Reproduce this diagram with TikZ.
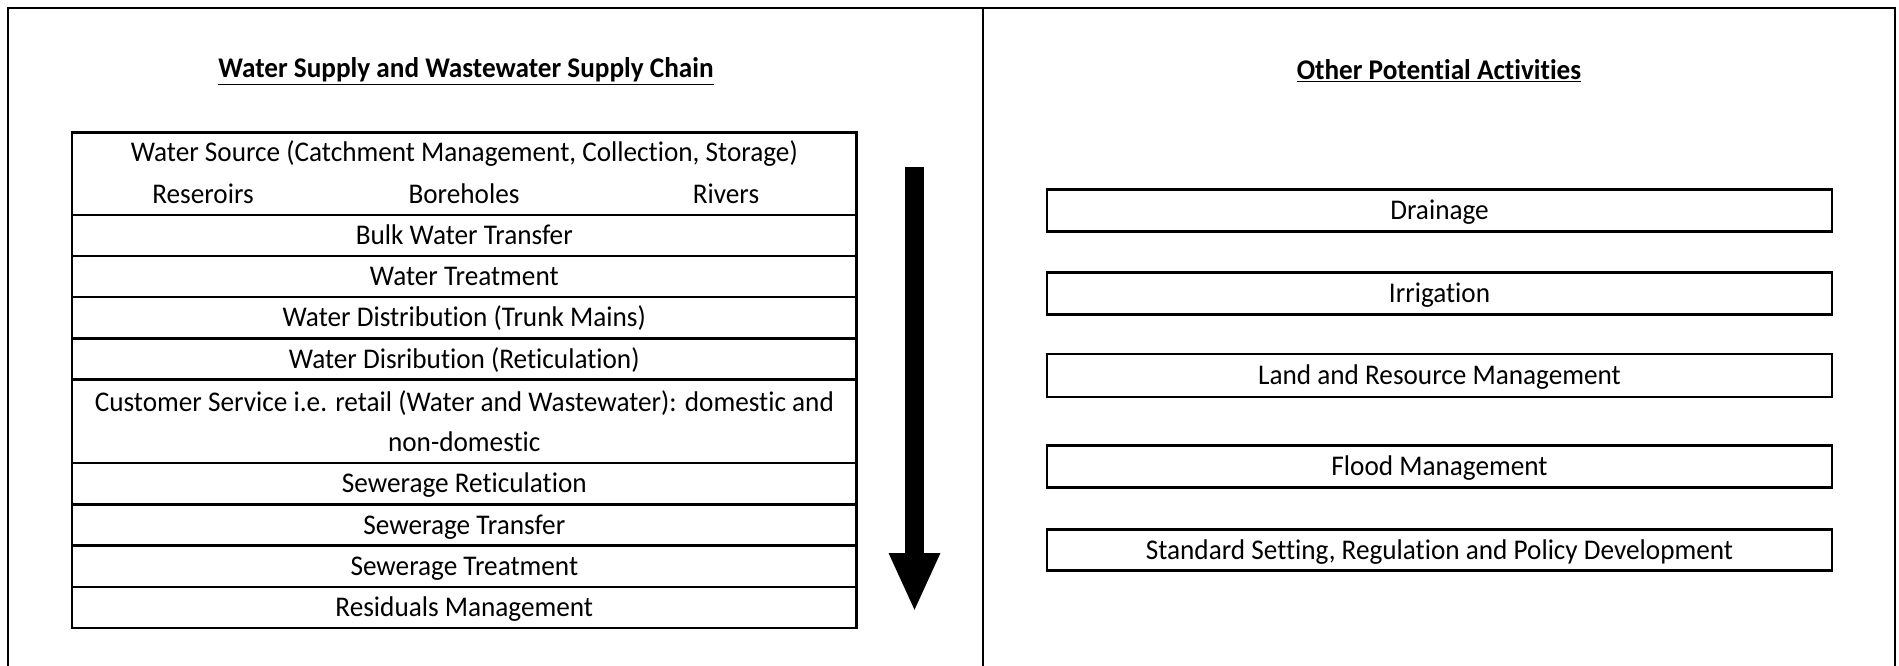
\documentclass[tikz,border=0pt]{standalone}
\usepackage{fontspec}
\setmainfont{Carlito}[FakeStretch=0.955,Ligatures=NoCommon]
\usetikzlibrary{arrows.meta}
\newcommand\mytxt{\fontsize{28.5}{40}\selectfont}
\newcommand\myttl{\fontsize{28.5}{30}\selectfont\bfseries}
\begin{document}
\begin{tikzpicture}[x=1pt,y=-1pt,
  frame/.style={line width=2.2pt},
  rowbox/.style={draw, line width=2.6pt, minimum width=784.6pt, minimum height=41.3pt, inner sep=0pt, font=\mytxt, align=center},
  onerow/.style={rowbox, text height=22pt, text depth=4pt},
  actbox/.style={draw, line width=2.6pt, minimum width=785pt, minimum height=41.5pt, inner sep=0pt, font=\mytxt, text height=22pt, text depth=4pt},
  plain/.style={inner sep=0pt, font=\mytxt, anchor=base},
  ttl/.style={inner sep=0pt, font=\myttl, anchor=base},
  bigarrow/.style={line width=18.5pt, -{Triangle[width=47pt,length=59pt]}}]
\useasboundingbox (0,0) rectangle (1899,666);
% frame
\draw[frame] (8,680) -- (8,8) -- (1895,8) -- (1895,680);
\draw[frame] (983,8) -- (983,680);
% titles
\node[ttl] (t1) at (466,78) {\underline{Water Supply and Wastewater Supply Chain}};
\node[ttl] (t2) at (1439,80) {\underline{Other Potential Activities}};
% left chain
\node[rowbox, minimum height=82.3pt] (src) at (464.3,173.85) {};
\node[plain] (srcA) at (464.3,161) {Water Source (Catchment Management, Collection, Storage)};
\node[plain] (srcB) at (203,204) {Reseroirs};
\node[plain] (srcC) at (464,204) {Boreholes};
\node[plain] (srcD) at (726,204) {Rivers};
\node[onerow] (bulk) at (464.3,235.5) {Bulk Water Transfer};
\node[onerow] (treat) at (464.3,276.5) {Water Treatment};
\node[onerow] (trunk) at (464.3,317.5) {Water Distribution (Trunk Mains)};
\node[onerow] (retic) at (464.3,359) {Water Disribution (Reticulation)};
\node[rowbox, minimum height=83pt] (cust) at (464.3,421.5) {Customer Service i.e. retail (Water and Wastewater): domestic and\\non-domestic};
\node[onerow] (sret) at (464.3,483.5) {Sewerage Reticulation};
\node[onerow] (strans) at (464.3,525) {Sewerage Transfer};
\node[onerow] (streat) at (464.3,566.5) {Sewerage Treatment};
\node[onerow] (resid) at (464.3,607.5) {Residuals Management};
% arrow
\coordinate (atop) at (914.5,167);
\coordinate (atip) at (914.5,612);
\draw[bigarrow] (atop) -- (atip);
% right activities
\node[actbox] (drain) at (1439.5,210.5) {Drainage};
\node[actbox] (irr) at (1439.5,293.5) {Irrigation};
\node[actbox, minimum height=43pt] (land) at (1439.5,375.5) {Land and Resource Management};
\node[actbox] (flood) at (1439.5,466.5) {Flood Management};
\node[actbox] (std) at (1439.5,550) {Standard Setting, Regulation and Policy Development};
\end{tikzpicture}
\end{document}
